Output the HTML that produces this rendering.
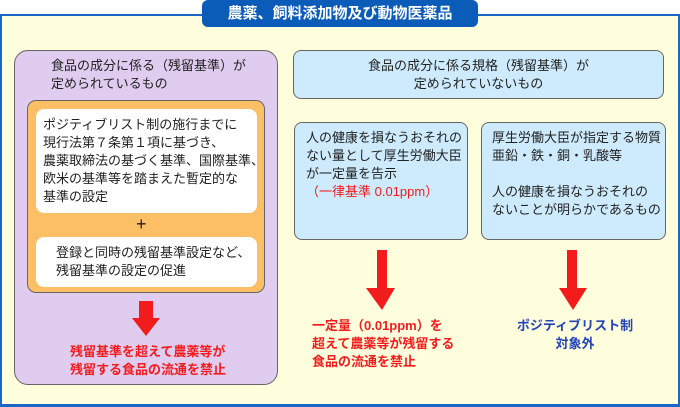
<!DOCTYPE html>
<html><head><meta charset="utf-8"><style>
*{margin:0;padding:0;box-sizing:border-box}
body{width:680px;height:407px;overflow:hidden;background:#fff;font-family:"Liberation Sans","Noto Sans CJK JP",sans-serif;font-size:13px;color:#222;position:relative}
.a{position:absolute}
.t{line-height:18px;white-space:nowrap}
</style></head><body>
<div class="a" style="left:0;top:14px;width:680px;height:393px;background:#fffedd;border:2px solid #1a66c4;border-bottom-width:3px"></div>
<div class="a" style="left:202px;top:0;width:276px;height:27px;background:#0a5cb8;border-radius:6px;color:#fff;font-weight:bold;font-size:15px;text-align:center;line-height:27px">農薬、飼料添加物及び動物医薬品</div>

<div class="a" style="left:14px;top:50px;width:264px;height:335px;background:#e0ccef;border:1px solid #666;border-radius:14px"></div>
<div class="a t" style="left:51px;top:57px">食品の成分に係る（残留基準）が<br>定められているもの</div>
<div class="a" style="left:27px;top:100px;width:238px;height:193px;background:#fcbf66;border:1px solid #666;border-radius:9px"></div>
<div class="a" style="left:36px;top:109px;width:221px;height:104px;background:#fff;border-radius:8px"></div>
<div class="a t" style="left:43px;top:116px">ポジティブリスト制の施行までに<br>現行法第７条第１項に基づき、<br>農薬取締法の基づく基準、国際基準、<br>欧米の基準等を踏まえた暫定的な<br>基準の設定</div>
<div class="a" style="left:136px;top:213px;font-size:18px;line-height:22px">+</div>
<div class="a" style="left:36px;top:237px;width:221px;height:50px;background:#fff;border-radius:8px"></div>
<div class="a t" style="left:56px;top:244px">登録と同時の残留基準設定など、<br>残留基準の設定の促進</div>
<svg class="a" style="left:0;top:0" width="680" height="407">
<polygon points="139,301 153,301 153,318 160,318 146,336 132,318 139,318" fill="#f21c1c"/>
<polygon points="377,250 387,250 387,288 395,288 382,310 366,288 377,288" fill="#f21c1c"/>
<polygon points="567,250 577,250 577,288 587,288 573,310 559,288 567,288" fill="#f21c1c"/>
</svg>
<div class="a t" style="left:70px;top:343px;color:#f21c1c;font-weight:bold">残留基準を超えて農薬等が<br>残留する食品の流通を禁止</div>

<div class="a" style="left:293px;top:50px;width:371px;height:49px;background:#cdebfc;border:1px solid #666;border-radius:8px"></div>
<div class="a t" style="left:293px;top:57px;width:371px;text-align:center">食品の成分に係る規格（残留基準）が<br>定められていないもの</div>
<div class="a" style="left:294px;top:122px;width:174px;height:118px;background:#cdebfc;border:1px solid #666;border-radius:8px"></div>
<div class="a t" style="left:306px;top:129px">人の健康を損なうおそれの<br>ない量として厚生労働大臣<br>が一定量を告示<br><span style="color:#f21c1c">（一律基準 0.01ppm）</span></div>
<div class="a" style="left:481px;top:122px;width:185px;height:118px;background:#cdebfc;border:1px solid #666;border-radius:8px"></div>
<div class="a t" style="left:492px;top:129px">厚生労働大臣が指定する物質<br>亜鉛・鉄・銅・乳酸等<br><br>人の健康を損なうおそれの<br>ないことが明らかであるもの</div>
<div class="a t" style="left:312px;top:317px;color:#f21c1c;font-weight:bold">一定量（0.01ppm）を<br>超えて農薬等が残留する<br>食品の流通を禁止</div>
<div class="a t" style="left:510px;top:317px;width:130px;text-align:center;color:#2244bb;font-weight:bold">ポジティブリスト制<br>対象外</div>
</body></html>
